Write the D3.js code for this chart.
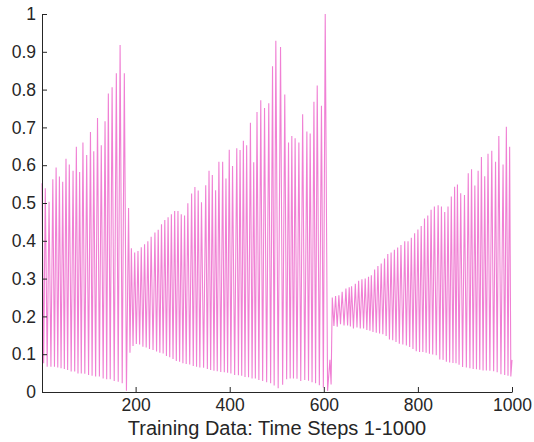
<!DOCTYPE html>
<html>
<head>
<meta charset="utf-8">
<script src="https://d3js.org/d3.v7.min.js"></script>
<style>
  body { margin: 0; background: #fff; }
  text { font-family: "Liberation Sans", Arial, sans-serif; fill: #262626; }
</style>
</head>
<body>
<div id="trainplot"></div>
<script>

// time step of each peak, the peak value, and the trough that follows it
var peakSteps = [
  1, 8, 16, 24, 31, 38, 45, 52, 59, 67, 74, 81, 88, 96, 104, 111, 119, 127, 135, 142, 150, 159, 167, 176,
  185,
  191, 198, 205, 212, 219, 226, 233, 241, 248, 255, 262, 269, 276, 283, 290, 297, 304, 311, 319, 326,
  333, 340, 349, 356, 363, 370, 377, 385, 392, 399, 406, 415, 422, 429, 436, 444, 451, 458, 466, 474,
  483, 491, 498, 508, 517, 525, 532, 539, 547, 555, 564, 571, 579, 586, 595, 603,
  613,
  618, 625, 632, 639, 647, 654, 659, 667, 674, 681, 688, 695, 701, 708, 715, 722, 729, 736, 743, 750,
  757, 764, 772, 779, 786, 793, 800, 807, 814, 821, 828, 835, 843, 850, 857, 864, 871, 878, 884, 891,
  899, 907, 914, 921, 928, 935, 942, 949, 957, 965, 972, 981, 988, 995
]
var peaks = [
  0.552, 0.539, 0.503, 0.563, 0.594, 0.570, 0.556, 0.617, 0.602, 0.585, 0.649, 0.582, 0.660, 0.627, 0.688, 0.637,
  0.725, 0.653, 0.716, 0.790, 0.806, 0.843, 0.918, 0.843,
  0.487,
  0.380, 0.369, 0.373, 0.383, 0.391, 0.399, 0.411, 0.422, 0.429, 0.444, 0.455, 0.462, 0.470, 0.479, 0.479, 0.470,
  0.467, 0.499, 0.525, 0.542, 0.533, 0.502, 0.547, 0.585, 0.574, 0.534, 0.609, 0.609, 0.565, 0.641, 0.598, 0.645,
  0.640, 0.665, 0.653, 0.712, 0.608, 0.741, 0.772, 0.751, 0.764, 0.862, 0.929, 0.913, 0.787, 0.660, 0.677, 0.671,
  0.660, 0.735, 0.689, 0.684, 0.768, 0.811, 0.757, 1.000,
  0.085,
  0.250, 0.254, 0.256, 0.265, 0.274, 0.277, 0.280, 0.286, 0.294, 0.298, 0.300, 0.305, 0.309, 0.324, 0.333, 0.340,
  0.353, 0.365, 0.369, 0.376, 0.382, 0.389, 0.399, 0.399, 0.408, 0.420, 0.430, 0.439, 0.459, 0.467, 0.482, 0.491,
  0.494, 0.491, 0.476, 0.491, 0.517, 0.543, 0.549, 0.526, 0.521, 0.579, 0.589, 0.546, 0.585, 0.622, 0.571, 0.630,
  0.638, 0.609, 0.677, 0.602, 0.702, 0.649
]
var troughs = [
  0.076, 0.067, 0.067, 0.067, 0.065, 0.063, 0.061, 0.058, 0.054, 0.054, 0.049, 0.049, 0.048, 0.045, 0.043, 0.041,
  0.041, 0.036, 0.034, 0.034, 0.029, 0.027, 0.023, 0.003,
  0.104,
  0.122, 0.127, 0.126, 0.120, 0.118, 0.114, 0.111, 0.107, 0.104, 0.102, 0.095, 0.092, 0.087, 0.082, 0.080, 0.076,
  0.074, 0.073, 0.069, 0.067, 0.065, 0.064, 0.061, 0.058, 0.056, 0.055, 0.053, 0.052, 0.051, 0.049, 0.045, 0.044,
  0.043, 0.040, 0.039, 0.036, 0.036, 0.032, 0.029, 0.026, 0.023, 0.017, 0.010, 0.019, 0.034, 0.036, 0.036, 0.035,
  0.029, 0.032, 0.030, 0.026, 0.023, 0.018, 0.012, 0.003,
  0.020,
  0.175, 0.173, 0.179, 0.176, 0.176, 0.173, 0.168, 0.171, 0.168, 0.168, 0.164, 0.162, 0.159, 0.157, 0.155, 0.153,
  0.148, 0.139, 0.137, 0.132, 0.128, 0.126, 0.123, 0.119, 0.114, 0.108, 0.106, 0.106, 0.104, 0.101, 0.099, 0.097,
  0.086, 0.085, 0.080, 0.078, 0.077, 0.076, 0.072, 0.066, 0.065, 0.063, 0.061, 0.060, 0.059, 0.057, 0.057, 0.056,
  0.055, 0.052, 0.047, 0.045, 0.043, 0.041
]
var lastStep = 1000
var lastValue = 0.085

var xTicks = [200, 400, 600, 800, 1000]
var yTicks = [0, 0.1, 0.2, 0.3, 0.4, 0.5, 0.6, 0.7, 0.8, 0.9, 1]
var xLabel = "Training Data: Time Steps 1-1000"

// set the dimensions and margins of the graph
var margin = {top: 14, right: 22, bottom: 50, left: 42},
    width = 534 - margin.left - margin.right,
    height = 442 - margin.top - margin.bottom;

var svg = d3.select("#trainplot")
  .append("svg")
    .attr("width", width + margin.left + margin.right)
    .attr("height", height + margin.top + margin.bottom)
  .append("g")
    .attr("transform", "translate(" + margin.left + "," + margin.top + ")");

var x = d3.scaleLinear()
  .domain([1, 1000])
  .range([0, width]);

var y = d3.scaleLinear()
  .domain([0, 1])
  .range([height, 0]);

// build the line: peak, then the trough half way to the next peak
var points = []
peakSteps.forEach(function(s, i) {
  var next = i < peakSteps.length - 1 ? peakSteps[i + 1] : lastStep
  points.push([s, peaks[i]])
  points.push([(s + next) / 2, troughs[i]])
})
points.push([lastStep, lastValue])

var line = d3.line()
  .x(function(d) { return x(d[0]); })
  .y(function(d) { return y(d[1]); })

svg.append("path")
  .datum(points)
  .attr("fill", "none")
  .attr("stroke", "#f080d4")
  .attr("stroke-width", 1.1)
  .attr("d", line)

// X axis, ticks pointing inside
var xAxis = svg.append("g")
  .attr("transform", "translate(0," + height + ")")
  .call(d3.axisBottom(x).tickValues(xTicks).tickSize(-5).tickSizeOuter(0).tickPadding(7)
    .tickFormat(d3.format("d")))
xAxis.selectAll("text").style("font-size", "17.5px")

// Y axis
var yAxis = svg.append("g")
  .call(d3.axisLeft(y).tickValues(yTicks).tickSize(-5).tickSizeOuter(0).tickPadding(6)
    .tickFormat(function(d) { return d3.format("~g")(d); }))
yAxis.selectAll("text").style("font-size", "17.5px")

svg.selectAll(".domain, .tick line").attr("stroke", "#262626")
svg.selectAll(".tick text").attr("fill", "#262626")

// X axis label
svg.append("text")
  .attr("text-anchor", "middle")
  .attr("x", width / 2)
  .attr("y", height + 43)
  .style("font-size", "20px")
  .text(xLabel);

</script>
</body>
</html>
